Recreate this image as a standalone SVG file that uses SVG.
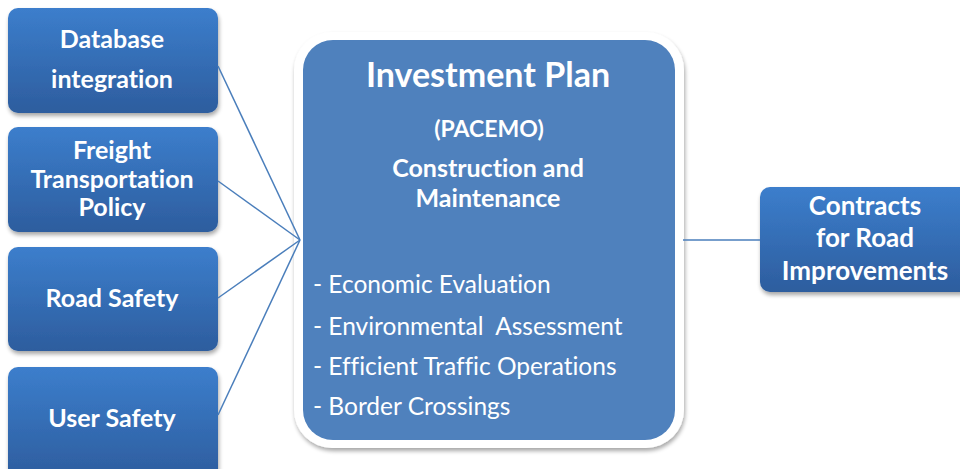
<svg xmlns="http://www.w3.org/2000/svg" width="960" height="469" viewBox="0 0 960 469">
<defs>
<linearGradient id="g" x1="0" y1="0" x2="0" y2="1">
<stop offset="0" stop-color="#3C7ECC"/>
<stop offset="1" stop-color="#2D5D9E"/>
</linearGradient>
<filter id="sh" x="-10%" y="-10%" width="120%" height="125%">
<feGaussianBlur in="SourceAlpha" stdDeviation="2"/>
<feOffset dx="1" dy="3" result="o"/>
<feComponentTransfer><feFuncA type="linear" slope="0.35"/></feComponentTransfer>
<feMerge><feMergeNode/><feMergeNode in="SourceGraphic"/></feMerge>
</filter>
</defs>
<style>
.box{fill:url(#g);filter:url(#sh);}
.t{font-family:Lato,"Liberation Sans",sans-serif;font-weight:bold;fill:#fff;text-anchor:middle;font-variant-ligatures:none;}
.b{font-family:Lato,"Liberation Sans",sans-serif;fill:#fff;font-size:24.5px;font-variant-ligatures:none;}
.c{stroke:#4A7EBB;stroke-width:1.5;fill:none;}
</style>
<rect width="960" height="469" fill="#fff"/>
<g id="n-database">
<rect class="box" x="8" y="8" width="210" height="105" rx="10"/>
<text class="t" x="112" y="48" font-size="25">Database</text>
<text class="t" x="112" y="88" font-size="25">integration</text>
</g>
<g id="n-freight">
<rect class="box" x="8" y="127" width="210" height="105" rx="10"/>
<text class="t" x="112" y="159" font-size="25">Freight</text>
<text class="t" x="112" y="188" font-size="25">Transportation</text>
<text class="t" x="112" y="216" font-size="25">Policy</text>
</g>
<g id="n-road">
<rect class="box" x="8" y="247" width="210" height="104" rx="10"/>
<text class="t" x="112" y="307" font-size="25">Road Safety</text>
</g>
<g id="n-user">
<rect class="box" x="8" y="367" width="210" height="112" rx="10"/>
<text class="t" x="112" y="427" font-size="25">User Safety</text>
</g>
<g id="n-plan">
<rect x="294" y="32" width="390" height="416" rx="38" fill="#fff" filter="url(#sh)"/>
<rect x="303" y="40" width="372" height="400" rx="30" fill="#4F81BD"/>
<text class="t" x="488" y="87" font-size="34">Investment Plan</text>
<text class="t" x="489" y="137" font-size="23">(PACEMO)</text>
<text class="t" x="488" y="177" font-size="25">Construction and</text>
<text class="t" x="488" y="207" font-size="25">Maintenance</text>
<text class="b" x="313" y="293">- Economic Evaluation</text>
<text class="b" x="313" y="335" xml:space="preserve">- Environmental  Assessment</text>
<text class="b" x="313" y="375">- Efficient Traffic Operations</text>
<text class="b" x="313" y="415">- Border Crossings</text>
</g>
<g id="n-contracts">
<rect class="box" x="760" y="187" width="215" height="105" rx="10"/>
<text class="t" x="865" y="215" font-size="26">Contracts</text>
<text class="t" x="865" y="247" font-size="26">for Road</text>
<text class="t" x="865" y="280" font-size="26">Improvements</text>
</g>
<g id="connectors">
<line class="c" x1="218" y1="66" x2="300" y2="240"/>
<line class="c" x1="218" y1="181" x2="300" y2="240"/>
<line class="c" x1="218" y1="298" x2="300" y2="240"/>
<line class="c" x1="218" y1="415" x2="300" y2="240"/>
<line class="c" x1="683" y1="240" x2="760" y2="240"/>
</g>
</svg>
